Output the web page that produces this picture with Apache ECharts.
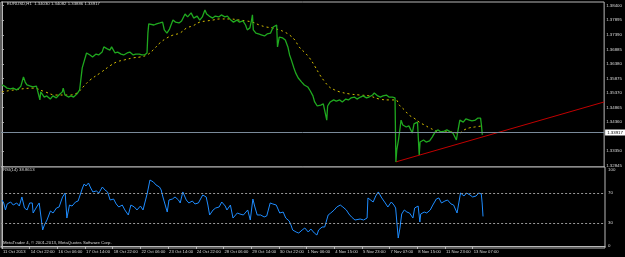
<!DOCTYPE html>
<html><head><meta charset="utf-8">
<script src="https://cdn.jsdelivr.net/npm/echarts@6/dist/echarts.min.js"></script>
<style>html,body{margin:0;padding:0;background:#000;}#c{width:625px;height:257px;}</style>
</head><body><div id="c"></div>
<script>
// x = hourly bar index (bar 0 = 11 Oct 2013 14:00)
const timeTickBars = [0,32,64,96,128,160,192,224,256,288,320,352,384,416,448,480,512,544];
const timeTickLabels = ['11 Oct 2013','14 Oct 22:00','16 Oct 06:00','17 Oct 14:00','18 Oct 22:00','22 Oct 06:00','23 Oct 14:00','24 Oct 22:00','28 Oct 06:00','29 Oct 14:00','30 Oct 22:00','1 Nov 06:00','4 Nov 15:00','5 Nov 23:00','7 Nov 07:00','8 Nov 15:00','11 Nov 23:00','13 Nov 07:00'];
const priceTickLabels = [1.32845,1.33350,1.34360,1.34865,1.35370,1.35875,1.36380,1.36885,1.37390,1.37895,1.38400];
const rsiTickLabels = [0,30,70,100];
const rsiLevels = [30,70];
const currentPrice = 1.33917;
const headerText = 'EURUSD,H1  1.34030 1.34082 1.33886 1.33917';
const rsiText = 'RSI(14) 38.8613';
const footerText = 'MetaTrader 4, © 2001-2013, MetaQuotes Software Corp.';

const closeLine = [[0,1.3565],[3,1.3561],[6,1.3554],[10,1.3551],[13,1.3554],[17,1.3548],[20,1.3554],[22,1.3561],[25,1.3593],[27,1.3575],[29,1.3565],[33,1.3561],[36,1.3558],[40,1.3561],[42,1.3565],[44,1.3513],[45,1.3541],[49,1.3523],[52,1.3527],[56,1.3516],[59,1.3527],[63,1.3520],[66,1.3530],[70,1.3541],[71,1.3554],[73,1.3530],[77,1.3523],[80,1.3527],[83,1.3523],[87,1.3534],[90,1.3548],[93,1.3624],[95,1.3645],[98,1.3676],[102,1.3669],[105,1.3662],[109,1.3672],[112,1.3669],[116,1.3679],[118,1.3697],[122,1.3690],[125,1.3686],[127,1.3697],[131,1.3676],[134,1.3679],[138,1.3672],[141,1.3669],[145,1.3676],[148,1.3679],[152,1.3669],[155,1.3672],[159,1.3672],[162,1.3669],[165,1.3669],[168,1.3676],[169,1.3745],[170,1.3777],[172,1.3783],[176,1.3773],[179,1.3777],[183,1.3780],[186,1.3783],[188,1.3756],[191,1.3745],[194,1.3759],[198,1.3790],[201,1.3783],[205,1.3780],[208,1.3787],[212,1.3811],[215,1.3801],[219,1.3815],[222,1.3797],[226,1.3804],[229,1.3790],[232,1.3801],[235,1.3825],[237,1.3811],[240,1.3804],[244,1.3797],[247,1.3804],[251,1.3801],[254,1.3808],[258,1.3801],[261,1.3804],[265,1.3790],[268,1.3783],[272,1.3790],[275,1.3783],[279,1.3787],[282,1.3773],[284,1.3756],[287,1.3763],[289,1.3790],[290,1.3808],[291,1.3756],[294,1.3745],[297,1.3742],[301,1.3738],[304,1.3735],[307,1.3742],[311,1.3745],[314,1.3766],[318,1.3773],[319,1.3697],[321,1.3731],[325,1.3728],[328,1.3721],[331,1.3697],[333,1.3669],[335,1.3652],[338,1.3624],[340,1.3607],[343,1.3589],[347,1.3575],[350,1.3565],[354,1.3558],[357,1.3544],[360,1.3527],[362,1.3506],[365,1.3492],[369,1.3495],[372,1.3499],[376,1.3443],[377,1.3492],[380,1.3506],[384,1.3513],[387,1.3509],[391,1.3513],[394,1.3506],[398,1.3516],[401,1.3513],[404,1.3520],[408,1.3523],[411,1.3516],[415,1.3523],[418,1.3527],[422,1.3520],[425,1.3523],[429,1.3530],[431,1.3537],[435,1.3527],[438,1.3523],[441,1.3527],[445,1.3530],[448,1.3523],[452,1.3523],[455,1.3520],[456,1.3298],[457,1.3339],[459,1.3374],[461,1.3419],[462,1.3443],[464,1.3426],[468,1.3419],[471,1.3423],[475,1.3398],[477,1.3430],[481,1.3436],[483,1.3322],[484,1.3367],[488,1.3374],[491,1.3367],[495,1.3371],[498,1.3384],[502,1.3405],[505,1.3409],[508,1.3402],[512,1.3405],[515,1.3409],[519,1.3402],[522,1.3398],[526,1.3374],[528,1.3409],[530,1.3443],[534,1.3436],[537,1.3447],[541,1.3443],[544,1.3440],[548,1.3443],[551,1.3450],[554,1.3450],[555,1.3426],[556,1.3392]];

const maLine = [[0,1.3541],[15,1.3548],[36,1.3554],[50,1.3541],[62,1.3530],[79,1.3530],[87,1.3537],[94,1.3558],[102,1.3582],[114,1.3607],[125,1.3631],[133,1.3645],[142,1.3652],[152,1.3659],[160,1.3662],[168,1.3669],[175,1.3686],[183,1.3711],[191,1.3728],[198,1.3738],[206,1.3745],[214,1.3763],[221,1.3770],[229,1.3783],[237,1.3787],[244,1.3790],[252,1.3794],[264,1.3794],[275,1.3790],[283,1.3787],[290,1.3783],[298,1.3773],[306,1.3766],[313,1.3763],[321,1.3756],[327,1.3749],[333,1.3738],[339,1.3721],[344,1.3697],[350,1.3679],[356,1.3659],[362,1.3631],[368,1.3600],[373,1.3579],[379,1.3558],[385,1.3548],[391,1.3541],[402,1.3534],[414,1.3530],[425,1.3527],[437,1.3516],[448,1.3513],[456,1.3513],[460,1.3495],[466,1.3478],[471,1.3461],[477,1.3450],[483,1.3436],[489,1.3426],[495,1.3416],[500,1.3409],[506,1.3402],[518,1.3402],[529,1.3398],[535,1.3409],[541,1.3416],[547,1.3419],[556,1.3423]];

const trendLine = [[456,1.3298],[697,1.3506]];

const rsiLine = [[0,60.5],[2,56.6],[4,47.4],[6,55.3],[10,57.9],[13,53.9],[17,56.6],[20,52.6],[23,64.5],[26,50.0],[29,47.4],[32,56.6],[35,56.6],[36,43.4],[40,51.3],[43,56.6],[47,21.1],[49,27.6],[52,34.2],[56,46.1],[59,43.4],[63,50.0],[66,51.3],[70,64.5],[73,69.7],[75,36.8],[78,53.9],[81,52.6],[85,57.9],[88,59.2],[90,56.6],[93,76.3],[95,81.6],[97,78.9],[100,82.9],[102,77.6],[105,71.1],[109,72.4],[112,69.7],[116,77.6],[119,73.7],[122,71.1],[125,60.5],[129,61.8],[132,55.3],[135,51.3],[139,53.9],[142,47.4],[146,40.8],[149,53.9],[153,51.3],[156,47.4],[160,52.6],[163,47.4],[168,69.7],[171,86.8],[175,84.2],[178,80.3],[182,77.6],[184,73.7],[186,64.5],[191,44.7],[193,60.5],[197,61.8],[200,64.5],[204,60.5],[206,56.6],[209,71.1],[213,60.5],[216,56.6],[220,59.2],[223,55.3],[227,56.6],[229,56.6],[232,67.1],[236,64.5],[238,53.9],[240,40.8],[244,47.4],[247,50.0],[251,51.3],[254,57.9],[258,52.6],[260,47.4],[264,53.9],[267,36.8],[272,43.4],[275,42.1],[279,40.8],[282,44.7],[284,47.4],[287,34.2],[290,61.8],[292,52.6],[295,40.8],[299,40.8],[303,38.2],[306,39.5],[310,56.6],[313,55.3],[317,53.9],[319,55.3],[321,43.4],[325,44.7],[328,36.8],[332,32.9],[334,27.6],[336,21.1],[340,18.4],[343,17.1],[347,21.1],[350,23.7],[354,18.4],[357,22.4],[361,17.1],[364,14.5],[366,21.1],[370,25.0],[373,25.0],[377,40.8],[380,43.4],[384,47.4],[387,51.3],[391,53.9],[394,51.3],[398,47.4],[401,42.1],[404,38.2],[408,34.2],[410,36.8],[414,35.5],[418,34.2],[422,36.8],[423,63.2],[425,64.5],[429,57.9],[432,65.8],[435,71.1],[437,67.1],[439,63.2],[443,56.6],[446,51.3],[450,57.9],[453,53.9],[455,50.0],[458,10.5],[460,23.7],[462,42.1],[465,47.4],[468,44.7],[471,43.4],[475,36.8],[477,50.0],[481,52.6],[483,31.6],[484,42.1],[488,44.7],[491,43.4],[495,47.4],[498,53.9],[502,61.8],[505,63.2],[508,56.6],[512,59.2],[515,60.5],[519,55.3],[522,53.9],[526,43.4],[528,56.6],[530,69.7],[534,65.8],[537,69.7],[541,67.1],[544,64.5],[548,65.8],[551,69.7],[554,68.4],[555,56.6],[556,38.9]];

const chart = echarts.init(document.getElementById('c'), null, {renderer:'canvas'});
const FONT = 'Liberation Sans';
const TXT = '#d8d8d8';
const FRAME = '#b8b8b8';
chart.setOption({
  animation: false,
  backgroundColor: '#000',
  grid: [
    {left:1, top:2, width:604, height:165, show:true, borderColor:FRAME, borderWidth:1, backgroundColor:'#000'},
    {left:1, top:167, width:604, height:81, show:true, borderColor:FRAME, borderWidth:1, backgroundColor:'#000'}
  ],
  xAxis: [
    {type:'value', gridIndex:0, min:-1, max:697, show:false},
    {type:'value', gridIndex:1, min:-1, max:697, position:'bottom',
     axisLine:{show:true, lineStyle:{color:FRAME}},
     axisTick:{show:true, customValues:timeTickBars, length:3, lineStyle:{color:FRAME}},
     splitLine:{show:false},
     axisLabel:{customValues:timeTickBars, color:TXT, fontSize:4.2, fontFamily:FONT, align:'left', margin:2, padding:[0,0,0,1],
       formatter:(v)=>{const k=timeTickBars.indexOf(Math.round(v)); return k>=0?timeTickLabels[k]:'';}}}
  ],
  yAxis: [
    {type:'value', gridIndex:0, position:'right', min:1.32803, max:1.38528,
     axisLine:{show:true, lineStyle:{color:FRAME}},
     axisTick:{show:true, customValues:priceTickLabels, length:2, lineStyle:{color:FRAME}},
     splitLine:{show:false},
     axisLabel:{customValues:priceTickLabels, color:TXT, fontSize:4.4, fontFamily:FONT, margin:2, formatter:(v)=>v.toFixed(5)}},
    {type:'value', gridIndex:1, position:'right', min:-2.6, max:103.9,
     axisLine:{show:true, lineStyle:{color:FRAME}},
     axisTick:{show:false},
     splitLine:{show:false},
     axisLabel:{customValues:rsiTickLabels, color:TXT, fontSize:4.4, fontFamily:FONT, margin:3, formatter:(v)=>String(v)}}
  ],
  series: [
    {name:'trend', type:'line', xAxisIndex:0, yAxisIndex:0, data:trendLine, showSymbol:false, silent:true,
     lineStyle:{color:'#c00000', width:1}},
    {name:'MA', type:'line', xAxisIndex:0, yAxisIndex:0, data:maLine, smooth:0.4, showSymbol:false,
     lineStyle:{color:'#d8c000', width:1, type:[2,3]}},
    {name:'EURUSD', type:'line', xAxisIndex:0, yAxisIndex:0, data:closeLine, showSymbol:false,
     lineStyle:{color:'#1fa81f', width:1.3},
     markLine:{silent:true, symbol:'none', animation:false,
       lineStyle:{color:'#7a8a9a', width:1, type:'solid'},
       label:{show:true, position:'end', distance:1, formatter:()=>currentPrice.toFixed(5), color:'#000', backgroundColor:'#fff', fontSize:4.4, fontFamily:FONT, padding:[1,2,1,2]},
       data:[{yAxis:currentPrice}]}},
    {name:'RSI', type:'line', xAxisIndex:1, yAxisIndex:1, data:rsiLine, showSymbol:false,
     lineStyle:{color:'#1e8cff', width:1},
     markLine:{silent:true, symbol:'none', animation:false,
       lineStyle:{color:'#9a9a9a', width:1, type:[2,2]},
       label:{show:false},
       data:rsiLevels.map(v=>({yAxis:v}))}}
  ],
  graphic: [
    {type:'text', left:7, top:2, style:{text:headerText, fill:TXT, fontSize:4.3, fontFamily:FONT}},
    {type:'text', left:3, top:168, style:{text:rsiText, fill:TXT, fontSize:4.3, fontFamily:FONT}},
    {type:'text', left:3, top:241, style:{text:footerText, fill:TXT, fontSize:4.3, fontFamily:FONT}}
  ]
});
</script></body></html>
